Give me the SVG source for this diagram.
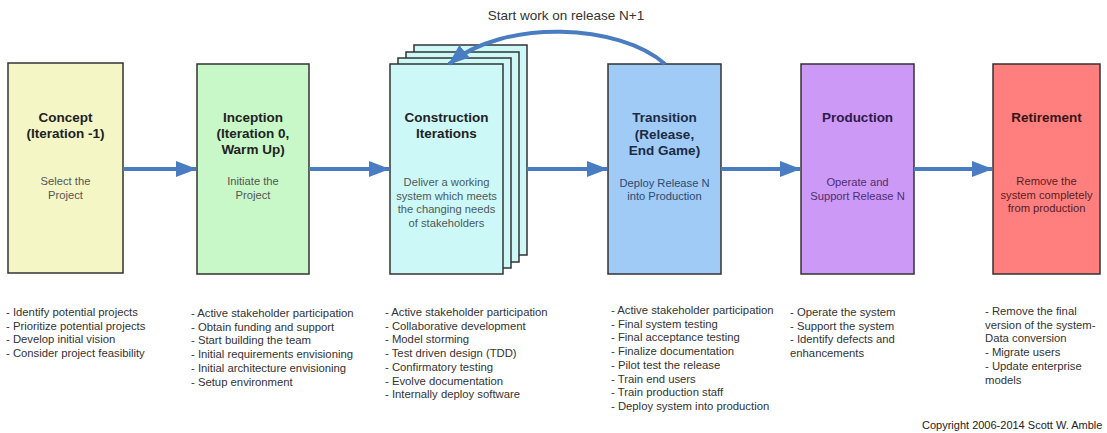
<svg xmlns="http://www.w3.org/2000/svg" width="1107" height="433" viewBox="0 0 1107 433">
<defs>
<style>
text{font-family:"Liberation Sans",Arial,sans-serif}
.box{stroke:#333;stroke-width:1.5}
.title{font-size:13.5px;font-weight:bold;text-anchor:middle}
.sub{font-size:11.2px;text-anchor:middle}
.list{font-size:11.3px;fill:#333}
.conn{stroke:#4a7cc2;stroke-width:4;fill:none}
</style>
<marker id="ah" markerUnits="userSpaceOnUse" markerWidth="22" markerHeight="16" viewBox="0 0 22 16" refX="20" refY="8" orient="auto">
<path d="M0,0 L21,8 L0,16 Z" fill="#4a7cc2"/>
</marker>
</defs>
<rect width="1107" height="433" fill="#fff"/>

<text x="566" y="20" font-size="13.5" text-anchor="middle" fill="#333">Start work on release N+1</text>

<g id="concept">
<rect class="box" x="8" y="63" width="115" height="210" fill="#f4f6c6"/>
<text class="title" fill="#222"><tspan x="65.5" y="122">Concept</tspan><tspan x="65.5" y="138">(Iteration -1)</tspan></text>
<text class="sub" fill="#555"><tspan x="65.5" y="185">Select the</tspan><tspan x="65.5" y="199">Project</tspan></text>
</g>

<g id="inception">
<rect class="box" x="197" y="64" width="112" height="210" fill="#c8f8c8"/>
<text class="title" fill="#222"><tspan x="253" y="122">Inception</tspan><tspan x="253" y="138">(Iteration 0,</tspan><tspan x="253" y="154">Warm Up)</tspan></text>
<text class="sub" fill="#555"><tspan x="253" y="185">Initiate the</tspan><tspan x="253" y="199">Project</tspan></text>
</g>

<g id="construction">
<rect class="box" x="414" y="45" width="113" height="210" fill="#cdf8f8"/>
<rect class="box" x="406" y="52" width="113" height="210" fill="#cdf8f8"/>
<rect class="box" x="398" y="58" width="113" height="210" fill="#cdf8f8"/>
<rect class="box" x="390" y="64" width="113" height="210" fill="#cdf8f8"/>
<text class="title" fill="#222"><tspan x="446.5" y="122">Construction</tspan><tspan x="446.5" y="138">Iterations</tspan></text>
<text class="sub" fill="#4d5a5a"><tspan x="446.5" y="186">Deliver a working</tspan><tspan x="446.5" y="199.5">system which meets</tspan><tspan x="446.5" y="213">the changing needs</tspan><tspan x="446.5" y="226.5">of stakeholders</tspan></text>
</g>

<g id="transition">
<rect class="box" x="608" y="64" width="113" height="210" fill="#9fcbf6"/>
<text class="title" fill="#1c2a44"><tspan x="664.5" y="122">Transition</tspan><tspan x="664.5" y="139">(Release,</tspan><tspan x="664.5" y="155">End Game)</tspan></text>
<text class="sub" fill="#2d4a72"><tspan x="664.5" y="187">Deploy Release N</tspan><tspan x="664.5" y="200">into Production</tspan></text>
</g>

<g id="production">
<rect class="box" x="801" y="64" width="113" height="210" fill="#cc99f7"/>
<text class="title" fill="#2e1a4a"><tspan x="857.5" y="122">Production</tspan></text>
<text class="sub" fill="#4c2e70"><tspan x="857.5" y="186">Operate and</tspan><tspan x="857.5" y="200">Support Release N</tspan></text>
</g>

<g id="retirement">
<rect class="box" x="993" y="64" width="107" height="210" fill="#ff7f7f"/>
<text class="title" fill="#3a1414"><tspan x="1046.5" y="122">Retirement</tspan></text>
<text class="sub" fill="#5a1c1c"><tspan x="1046.5" y="185">Remove the</tspan><tspan x="1046.5" y="199">system completely</tspan><tspan x="1046.5" y="212">from production</tspan></text>
</g>

<g id="connectors">
<line class="conn" x1="123" y1="169" x2="196" y2="169" marker-end="url(#ah)"/>
<line class="conn" x1="309" y1="169" x2="389" y2="169" marker-end="url(#ah)"/>
<line class="conn" x1="527" y1="169" x2="607" y2="169" marker-end="url(#ah)"/>
<line class="conn" x1="721" y1="169" x2="800" y2="169" marker-end="url(#ah)"/>
<line class="conn" x1="914" y1="169" x2="992" y2="169" marker-end="url(#ah)"/>
<path class="conn" d="M665,64 C620,24 505,18 449,64" marker-end="url(#ah)"/>
</g>

<g id="concept-list">
<text class="list"><tspan x="6" y="316">- Identify potential projects</tspan><tspan x="6" y="329.7">- Prioritize potential projects</tspan><tspan x="6" y="343.4">- Develop initial vision</tspan><tspan x="6" y="357.1">- Consider project feasibility</tspan></text>
</g>
<g id="inception-list">
<text class="list"><tspan x="191" y="317">- Active stakeholder participation</tspan><tspan x="191" y="330.7">- Obtain funding and support</tspan><tspan x="191" y="344.4">- Start building the team</tspan><tspan x="191" y="358.1">- Initial requirements envisioning</tspan><tspan x="191" y="371.8">- Initial architecture envisioning</tspan><tspan x="191" y="385.5">- Setup environment</tspan></text>
</g>
<g id="construction-list">
<text class="list"><tspan x="385" y="316">- Active stakeholder participation</tspan><tspan x="385" y="329.7">- Collaborative development</tspan><tspan x="385" y="343.4">- Model storming</tspan><tspan x="385" y="357.1">- Test driven design (TDD)</tspan><tspan x="385" y="370.8">- Confirmatory testing</tspan><tspan x="385" y="384.5">- Evolve documentation</tspan><tspan x="385" y="398.2">- Internally deploy software</tspan></text>
</g>
<g id="transition-list">
<text class="list"><tspan x="611" y="314">- Active stakeholder participation</tspan><tspan x="611" y="327.7">- Final system testing</tspan><tspan x="611" y="341.4">- Final acceptance testing</tspan><tspan x="611" y="355.1">- Finalize documentation</tspan><tspan x="611" y="368.8">- Pilot test the release</tspan><tspan x="611" y="382.5">- Train end users</tspan><tspan x="611" y="396.2">- Train production staff</tspan><tspan x="611" y="409.9">- Deploy system into production</tspan></text>
</g>
<g id="production-list">
<text class="list"><tspan x="790" y="316">- Operate the system</tspan><tspan x="790" y="329.7">- Support the system</tspan><tspan x="790" y="343.4">- Identify defects and</tspan><tspan x="790" y="357.1">enhancements</tspan></text>
</g>
<g id="retirement-list">
<text class="list"><tspan x="985" y="315">- Remove the final</tspan><tspan x="985" y="328.7">version of the system-</tspan><tspan x="985" y="342.4">Data conversion</tspan><tspan x="985" y="356.1">- Migrate users</tspan><tspan x="985" y="369.8">- Update enterprise</tspan><tspan x="985" y="383.5">models</tspan></text>
</g>
<text x="922" y="429" font-size="11" fill="#222">Copyright 2006-2014 Scott W. Amble</text>
</svg>
